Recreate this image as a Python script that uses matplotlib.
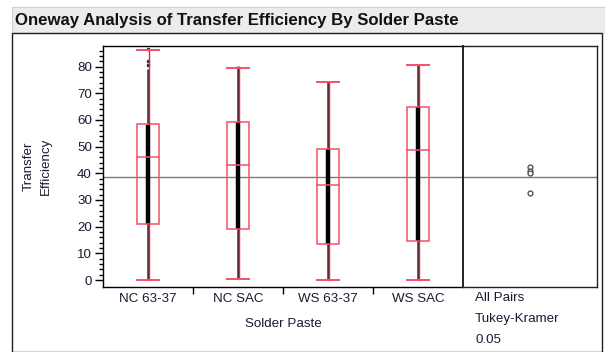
import numpy as np
import matplotlib
matplotlib.use("Agg")
import matplotlib.pyplot as plt
from matplotlib.patches import Rectangle

# data (Transfer Efficiency by Solder Paste)
groups = ["NC 63-37", "NC SAC", "WS 63-37", "WS SAC"]
whisk_lo = [0.0, 0.5, 0.0, 0.0]
q1 = [21.1, 19.0, 13.6, 14.5]
median = [46.0, 43.0, 35.5, 48.6]
q3 = [58.4, 59.2, 49.1, 65.0]
whisk_hi = [86.1, 79.6, 74.1, 80.4]
# extent of the plotted data points (black column) and its dense part
pts_lo = [0.0, 0.7, 0.0, 0.0]
pts_hi = [79.0, 80.1, 74.5, 80.8]
dense_lo = [21.0, 19.0, 13.6, 14.5]
dense_hi = [58.0, 59.3, 49.0, 65.0]
extra_pts = [[80.5, 82.0, 86.5], [], [], []]
grand_mean = 38.6
# comparison circles (All Pairs, Tukey-Kramer)
circle_y = [42.2, 41.0, 40.0, 32.5]

W, H = 605, 352
fig = plt.figure(figsize=(W / 100, H / 100), dpi=100)
plt.rcParams['font.family'] = ['Liberation Sans', 'DejaVu Sans']
txt_col = '#1a1a33'
fs = 9.6

def fx(px):
    return px / W
def fy(py):
    return 1 - py / H

# title bar and outer frame
fig.patches.append(Rectangle((fx(12), fy(33)), fx(605) - fx(12), fy(7) - fy(33),
                             transform=fig.transFigure, facecolor='#ececec',
                             edgecolor='#d0d0d0', lw=0.8))
fig.patches.append(Rectangle((fx(12), fy(352)), fx(602) - fx(12), fy(33) - fy(352),
                             transform=fig.transFigure, facecolor='none',
                             edgecolor='#202020', lw=1.0))
fig.text(fx(15), fy(20), "Oneway Analysis of Transfer Efficiency By Solder Paste",
         fontsize=12.1, fontweight='bold', color='#111111', va='center', ha='left')

ylim = (-2.6, 87.7)
ax = fig.add_axes([fx(103), fy(287), fx(463) - fx(103), fy(46) - fy(287)])
ax2 = fig.add_axes([fx(463), fy(287), fx(597) - fx(463), fy(46) - fy(287)])
ax2.patch.set_alpha(0)

red = '#ff1a3a'
boxred = '#f4506a'
bw = 0.24
x = np.arange(len(groups))
for i in range(len(groups)):
    # data column
    ax.plot([x[i], x[i]], [pts_lo[i], pts_hi[i]], color='#333333', lw=1.8, zorder=2,
            solid_capstyle='butt')
    ax.plot([x[i], x[i]], [dense_lo[i], dense_hi[i]], color='black', lw=3.2, zorder=2,
            solid_capstyle='butt')
    if extra_pts[i]:
        ax.plot([x[i]] * len(extra_pts[i]), extra_pts[i], ls='none', marker='s',
                ms=2, color='#333333', zorder=2)
    # box
    ax.add_patch(Rectangle((x[i] - bw / 2, q1[i]), bw, q3[i] - q1[i], facecolor='none',
                           edgecolor=boxred, lw=1.1, zorder=3))
    ax.plot([x[i] - bw / 2, x[i] + bw / 2], [median[i]] * 2, color=boxred, lw=1.1, zorder=3)
    # whiskers
    xo = x[i] + 0.016
    ax.plot([xo, xo], [whisk_lo[i], q1[i]], color=red, lw=1.0, zorder=4)
    ax.plot([xo, xo], [q3[i], whisk_hi[i]], color=red, lw=1.0, zorder=4)
    ax.plot([x[i] - bw / 2, x[i] + bw / 2], [whisk_lo[i]] * 2, color=boxred, lw=1.4, zorder=4)
    ax.plot([x[i] - bw / 2, x[i] + bw / 2], [whisk_hi[i]] * 2, color=boxred, lw=1.4, zorder=4)

ax.axhline(grand_mean, color='#7a7a7a', lw=1.0, zorder=1)
ax.set_xlim(-0.5, len(groups) - 0.5)
ax.set_ylim(*ylim)
ax.set_xticks(x)
ax.set_xticklabels(groups, fontsize=fs, color=txt_col)
ax.tick_params(axis='x', which='major', length=0, pad=4)
ax.set_xticks(x[:-1] + 0.5, minor=True)
ax.tick_params(axis='x', which='minor', length=5, width=1, direction='out')
ax.set_yticks(np.arange(0, 81, 10))
ax.set_yticks(np.arange(0, 87, 2), minor=True)
ax.tick_params(axis='y', which='major', length=6, width=1, labelsize=fs,
               labelcolor=txt_col, pad=2)
ax.tick_params(axis='y', which='minor', length=3, width=1)
for s in ax.spines.values():
    s.set_linewidth(1.0)
ax.spines['right'].set_visible(False)
ax.set_xlabel("Solder Paste", fontsize=fs, color=txt_col, labelpad=10)
ax.set_ylabel("Transfer\nEfficiency", fontsize=fs, color=txt_col, labelpad=18,
              linespacing=1.6)

# right panel: comparison circles
ax2.axhline(grand_mean, color='#7a7a7a', lw=1.0, zorder=1)
ax2.plot([0.5] * len(circle_y), circle_y, ls='none', marker='o', ms=3.5,
         mfc='white', mec='#555555', mew=1.0, zorder=3)
ax2.set_xlim(0, 1)
ax2.set_ylim(*ylim)
ax2.set_xticks([])
ax2.set_yticks([])
for s in ax2.spines.values():
    s.set_linewidth(1.0)
    s.set_color('#222222')
ax2.spines['left'].set_linewidth(1.4)

for t, py in zip(["All Pairs", "Tukey-Kramer", "0.05"], [298, 319, 340]):
    fig.text(fx(475), fy(py), t, fontsize=fs, color=txt_col, ha='left', va='center')

fig.savefig("out.png", dpi=100)
